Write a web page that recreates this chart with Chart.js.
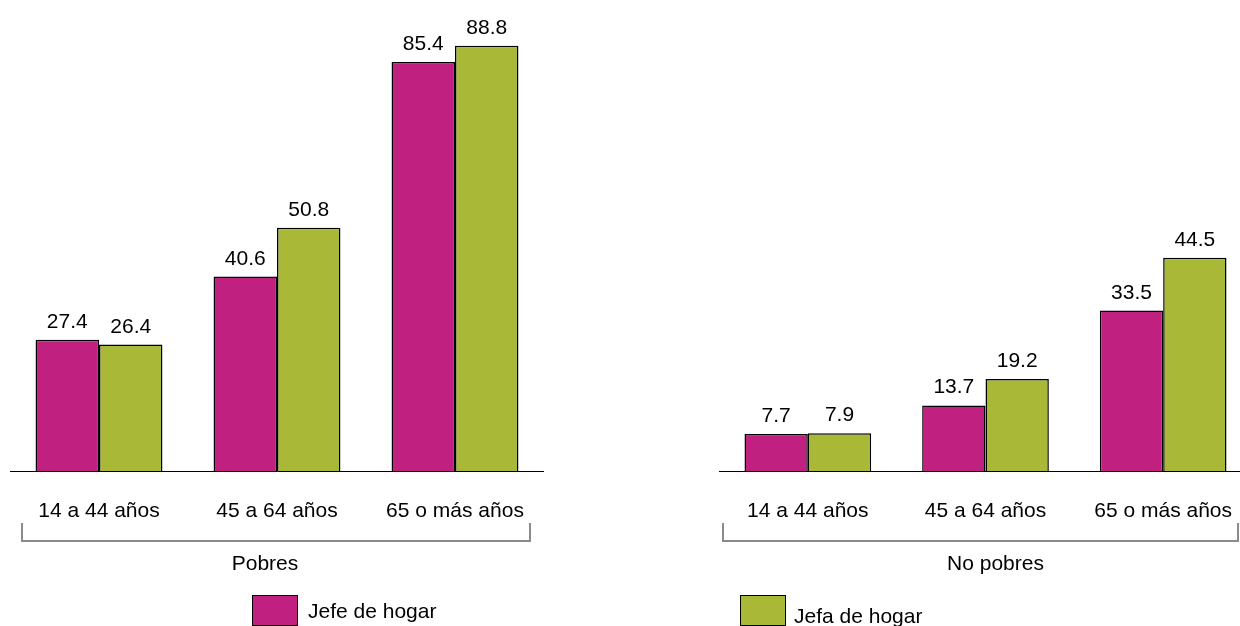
<!DOCTYPE html>
<html>
<head>
<meta charset="utf-8">
<script src="https://cdn.jsdelivr.net/npm/chart.js@4.4.0/dist/chart.umd.min.js"></script>
<style>
    body { margin: 0; width: 1240px; height: 626px; overflow: hidden; background: #fff; position: relative; font-family: "Liberation Sans", Arial, sans-serif; }
    canvas { position: absolute; top: 0; }
    #cPobres { left: 10px; }
    #cNoPobres { left: 719px; }
    .key { position: absolute; display: flex; align-items: center; font-size: 21px; color: #000; }
    .key span.box { display: inline-block; width: 44px; height: 29px; border: 1px solid #000; margin-right: 10px; }
</style>
</head>
<body>
<canvas id="cPobres" width="534" height="626"></canvas>
<canvas id="cNoPobres" width="533" height="626"></canvas>
<div class="key" style="left:252px; top:595px;"><span class="box" id="k0"></span><span id="t0"></span></div>
<div class="key" style="left:740px; top:595px;"><span class="box" id="k1" style="margin-right:8px;"></span><span id="t1" style="position:relative; top:5px;"></span></div>
<script>
const ageGroups = ['14 a 44 años', '45 a 64 años', '65 o más años'];
const jefePobres = [27.4, 40.6, 85.4];
const jefaPobres = [26.4, 50.8, 88.8];
const jefeNoPobres = [7.7, 13.7, 33.5];
const jefaNoPobres = [7.9, 19.2, 44.5];
const seriesNames = ['Jefe de hogar', 'Jefa de hogar'];
const panelNames = ['Pobres', 'No pobres'];
const seriesColors = ['#c0207f', '#a9b837'];

const FONT = '"Liberation Sans", Arial, sans-serif';

// value labels above each bar
const valueLabels = {
    id: 'valueLabels',
    afterDatasetsDraw(chart) {
        const ctx = chart.ctx;
        ctx.save();
        ctx.font = '21px ' + FONT;
        ctx.fillStyle = '#000';
        ctx.textAlign = 'center';
        ctx.textBaseline = 'alphabetic';
        chart.data.datasets.forEach((ds, i) => {
            chart.getDatasetMeta(i).data.forEach((bar, j) => {
                ctx.fillText(ds.data[j].toFixed(1), bar.x, bar.y - 12);
            });
        });
        ctx.restore();
    }
};

// bracket under the category labels + panel name
const groupBracket = {
    id: 'groupBracket',
    afterDraw(chart, args, opts) {
        const ctx = chart.ctx;
        const x0 = chart.chartArea.left + opts.insetL;
        const x1 = chart.chartArea.right - opts.insetR;
        ctx.save();
        ctx.strokeStyle = '#8a8a8a';
        ctx.lineWidth = 2;
        ctx.beginPath();
        ctx.moveTo(x0, 523);
        ctx.lineTo(x0, 541);
        ctx.lineTo(x1, 541);
        ctx.lineTo(x1, 523);
        ctx.stroke();
        ctx.font = '21px ' + FONT;
        ctx.fillStyle = '#000';
        ctx.textAlign = 'center';
        ctx.textBaseline = 'middle';
        ctx.fillText(opts.title, (chart.chartArea.left + chart.chartArea.right) / 2 + opts.titleShift, 564);
        ctx.restore();
    }
};

function makePanel(id, jefe, jefa, title, insetL, insetR, titleShift) {
    return new Chart(document.getElementById(id), {
        type: 'bar',
        data: {
            labels: ageGroups,
            datasets: [
                { label: seriesNames[0], data: jefe, backgroundColor: seriesColors[0], borderColor: '#000', borderWidth: 1.5 },
                { label: seriesNames[1], data: jefa, backgroundColor: seriesColors[1], borderColor: '#000', borderWidth: 1.5 }
            ]
        },
        options: {
            responsive: false,
            animation: false,
            layout: { padding: { top: 16, left: 0, right: 0, bottom: 0 } },
            datasets: { bar: { categoryPercentage: 0.713, barPercentage: 1 } },
            plugins: {
                legend: { display: false },
                tooltip: { enabled: false },
                groupBracket: { title, insetL, insetR, titleShift }
            },
            scales: {
                x: {
                    // labels pushed down with an invisible tick length so no side padding is added
                    grid: { display: false, drawTicks: true, tickLength: 28 },
                    border: { display: true, color: '#000', width: 1 },
                    ticks: { color: '#000', font: { size: 21, family: FONT }, padding: 0, maxRotation: 0, autoSkip: false },
                    afterFit: s => { s.height = 155; }
                },
                y: { display: false, min: 0, max: 95 }
            }
        },
        plugins: [valueLabels, groupBracket]
    });
}

makePanel('cPobres', jefePobres, jefaPobres, panelNames[0], 12, 14, -12);
makePanel('cNoPobres', jefeNoPobres, jefaNoPobres, panelNames[1], 4, 14, 10);

document.getElementById('k0').style.background = seriesColors[0];
document.getElementById('k1').style.background = seriesColors[1];
document.getElementById('t0').textContent = seriesNames[0];
document.getElementById('t1').textContent = seriesNames[1];
</script>
</body>
</html>
